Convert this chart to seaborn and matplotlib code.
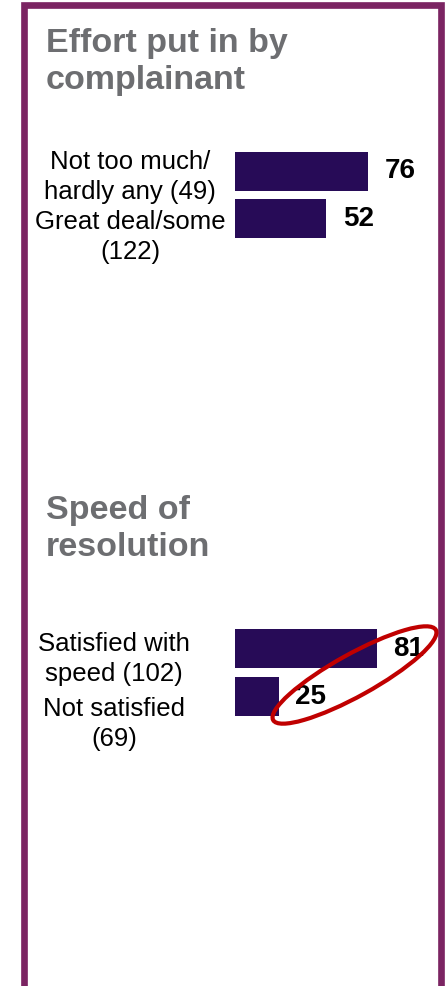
import matplotlib
matplotlib.use("Agg")
import matplotlib.pyplot as plt
import matplotlib.transforms as mtransforms
from matplotlib.patches import Rectangle, Ellipse
import seaborn as sns
import pandas as pd

# ---- data ----
effort_labels = ["Not too much/\nhardly any (49)", "Great deal/some\n(122)"]
effort_values = [76, 52]
speed_labels = ["Satisfied with\nspeed (102)", "Not satisfied\n(69)"]
speed_values = [81, 25]
title_effort = "Effort put in by\ncomplainant"
title_speed = "Speed of\nresolution"

# ---- style ----
sns.set_theme(style="white")
plt.rcParams["font.family"] = ["Liberation Sans", "DejaVu Sans"]

BAR = "#270B57"
FRAME = "#7B2462"
TITLE = "#6D6E71"
RED = "#C00000"

W, H = 447, 986
fig = plt.figure(figsize=(W / 100, H / 100), dpi=100)
fig.patch.set_facecolor("white")

# frame
fig.patches.append(Rectangle((24 / W, -2 / H), 417 / W, 983 / H,
                             transform=fig.transFigure, fill=False,
                             edgecolor=FRAME, linewidth=4.8, clip_on=False))

PX_PER_UNIT = 1.75


def panel(y_top, height, labels, values, label_center_x, offsets):
    ax = fig.add_axes([235 / W, 1 - (y_top + height) / H, 200 / W, height / H])
    df = pd.DataFrame({"label": labels, "value": values})
    sns.barplot(data=df, x="value", y="label", orient="h", color=BAR,
                saturation=1, width=39 / 47.5, linewidth=0, ax=ax)
    ax.set_xlim(0, 200 / PX_PER_UNIT)
    ax.bar_label(ax.containers[0], fmt="%d", padding=12, fontsize=20,
                 fontweight="bold", color="black")
    for s in ax.spines.values():
        s.set_visible(False)
    ax.set_xticks([])
    ax.set_xlabel("")
    ax.set_ylabel("")
    ax.set_facecolor("none")
    ax.set_yticks(range(len(labels)))
    ax.set_yticklabels(labels, ha="center", multialignment="center",
                       fontsize=18.5, color="black", linespacing=1.3)
    pad_pt = (235 - label_center_x) * 0.72
    ax.tick_params(axis="y", length=0, pad=pad_pt)
    for lab, dy in zip(ax.get_yticklabels(), offsets):
        lab.set_transform(lab.get_transform() +
                          mtransforms.ScaledTranslation(0, -dy / 100, fig.dpi_scale_trans))
    return ax


ax1 = panel(148, 94, effort_labels, effort_values, 130, [0, 13])
ax2 = panel(624.5, 96, speed_labels, speed_values, 114, [5, 22])

# titles
fig.text(46 / W, 1 - 28 / H, title_effort, fontsize=24.5, fontweight="bold",
         color=TITLE, ha="left", va="top", linespacing=1.27)
fig.text(46 / W, 1 - 495 / H, title_speed, fontsize=24.5, fontweight="bold",
         color=TITLE, ha="left", va="top", linespacing=1.27)

# red highlight ellipse
fig.patches.append(Ellipse((3.545, (H - 675) / 100), 1.86, 0.42, angle=29,
                           transform=fig.dpi_scale_trans, fill=False,
                           edgecolor=RED, linewidth=3.0))

fig.savefig("out.png", dpi=100, facecolor="white")
